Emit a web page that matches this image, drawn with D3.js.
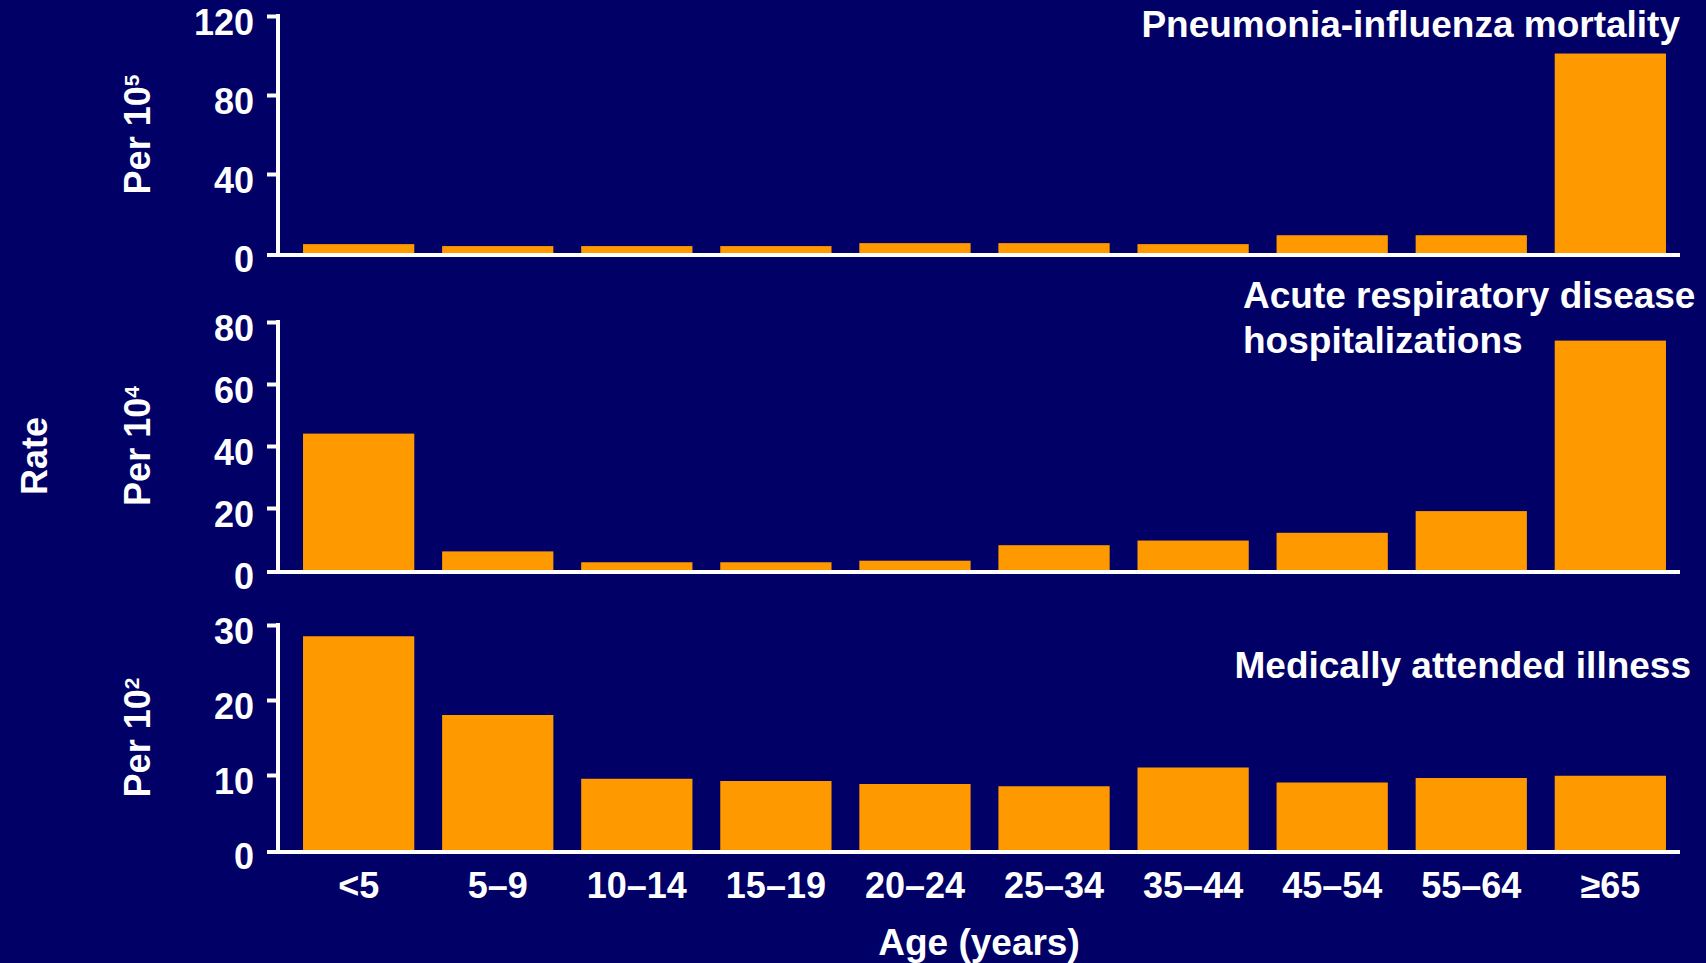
<!DOCTYPE html>
<html>
<head>
<meta charset="utf-8">
<script src="https://cdn.jsdelivr.net/npm/d3@7"></script>
<style>
  html, body { margin: 0; padding: 0; background: #000066; }
  svg { display: block; }
  text { font-family: "Liberation Sans", Arial, Helvetica, sans-serif; font-weight: bold; fill: #ffffff; }
</style>
</head>
<body>
<svg id="chart" width="1706" height="963"></svg>
<script>
// Age groups shared by all three panels
const ageGroups = ["<5", "5–9", "10–14", "15–19", "20–24", "25–34", "35–44", "45–54", "55–64", "≥65"];

// Rates by age group
const mortalityPer1e5 = [4.5, 3.5, 3.5, 3.5, 5, 5, 4.5, 9, 9, 101];
const hospitalizationsPer1e4 = [44, 6, 2.5, 2.5, 3, 8, 9.5, 12, 19, 74];
const medicallyAttendedPer1e2 = [28.5, 18, 9.5, 9.2, 8.8, 8.5, 11, 9, 9.6, 9.9];

// Tick labels for each panel's rate axis
const mortalityTicks = [0, 40, 80, 120];
const hospitalizationTicks = [0, 20, 40, 60, 80];
const medicalTicks = [0, 10, 20, 30];

// Panel titles
const mortalityTitle = ["Pneumonia-influenza mortality"];
const hospitalizationTitle = ["Acute respiratory disease", "hospitalizations"];
const medicalTitle = ["Medically attended illness"];

const BAR = "#ff9900";
const INK = "#ffffff";

const panels = [
  { values: mortalityPer1e5, ticks: mortalityTicks, exp: "5", title: mortalityTitle,
    base: 253, top: 16, titleX: 1680, titleY: 37, anchor: "end" },
  { values: hospitalizationsPer1e4, ticks: hospitalizationTicks, exp: "4", title: hospitalizationTitle,
    base: 570, top: 322, titleX: 1243, titleY: 308, anchor: "start" },
  { values: medicallyAttendedPer1e2, ticks: medicalTicks, exp: "2", title: medicalTitle,
    base: 850, top: 625, titleX: 1691, titleY: 678, anchor: "end" }
];

const svg = d3.select("#chart");
const axisX = 278, lineEnd = 1680;

const x = d3.scaleBand()
  .domain(ageGroups)
  .range([axisX, 1691])
  .paddingInner(0.2)
  .paddingOuter(0.18);

panels.forEach((p, i) => {
  const y = d3.scaleLinear()
    .domain([0, d3.max(p.ticks)])
    .range([p.base, p.top]);

  const g = svg.append("g");

  // bars
  g.selectAll("rect.bar")
    .data(p.values)
    .join("rect")
    .attr("class", "bar")
    .attr("x", (d, j) => x(ageGroups[j]))
    .attr("width", x.bandwidth())
    .attr("y", d => y(d))
    .attr("height", d => y(0) - y(d))
    .attr("fill", BAR);

  // rate axis
  const ya = g.append("g")
    .attr("transform", `translate(${axisX},0)`)
    .call(d3.axisLeft(y).tickValues(p.ticks).tickSize(11).tickSizeOuter(0).tickPadding(13));
  ya.select(".domain").remove();
  ya.selectAll(".tick line").attr("stroke", INK).attr("stroke-width", 4)
    .filter(d => d === 0).remove();
  ya.selectAll(".tick text")
    .attr("fill", INK)
    .attr("font-size", 36)
    .attr("font-family", "Liberation Sans, Arial, sans-serif")
    .attr("font-weight", "bold")
    .attr("dy", "0.5em");

  // vertical axis line
  g.append("line")
    .attr("x1", axisX).attr("x2", axisX)
    .attr("y1", y(d3.max(p.ticks)) - 2).attr("y2", y(0) + 4)
    .attr("stroke", INK).attr("stroke-width", 4);

  // baseline
  g.append("line")
    .attr("x1", axisX - 11).attr("x2", lineEnd)
    .attr("y1", y(0) + 2).attr("y2", y(0) + 2)
    .attr("stroke", INK).attr("stroke-width", 4);

  // panel title
  const t = g.append("text")
    .attr("x", p.titleX).attr("y", p.titleY)
    .attr("text-anchor", p.anchor)
    .attr("font-size", 37);
  p.title.forEach((line, k) => {
    t.append("tspan").attr("x", p.titleX).attr("dy", k === 0 ? 0 : 45).text(line);
  });

  // denominator label
  const cy = (y(0) + y(d3.max(p.ticks))) / 2;
  const lab = g.append("text")
    .attr("transform", `translate(150,${cy}) rotate(-90)`)
    .attr("text-anchor", "middle")
    .attr("font-size", 36);
  lab.append("tspan").text("Per 10");
  lab.append("tspan").attr("font-size", 21).attr("dy", -11).text(p.exp);

  // age labels on the bottom panel only
  if (i === panels.length - 1) {
    const xa = g.append("g")
      .attr("transform", `translate(0,${y(0) + 2})`)
      .call(d3.axisBottom(x).tickSize(0).tickPadding(20));
    xa.select(".domain").remove();
    xa.selectAll(".tick text")
      .attr("fill", INK)
      .attr("font-size", 36)
      .attr("font-family", "Liberation Sans, Arial, sans-serif")
      .attr("font-weight", "bold");
  }
});

// shared axis titles
svg.append("text")
  .attr("x", (axisX + lineEnd) / 2).attr("y", 955)
  .attr("text-anchor", "middle")
  .attr("font-size", 37)
  .text("Age (years)");

svg.append("text")
  .attr("transform", "translate(47,456) rotate(-90)")
  .attr("text-anchor", "middle")
  .attr("font-size", 36)
  .text("Rate");
</script>
</body>
</html>
